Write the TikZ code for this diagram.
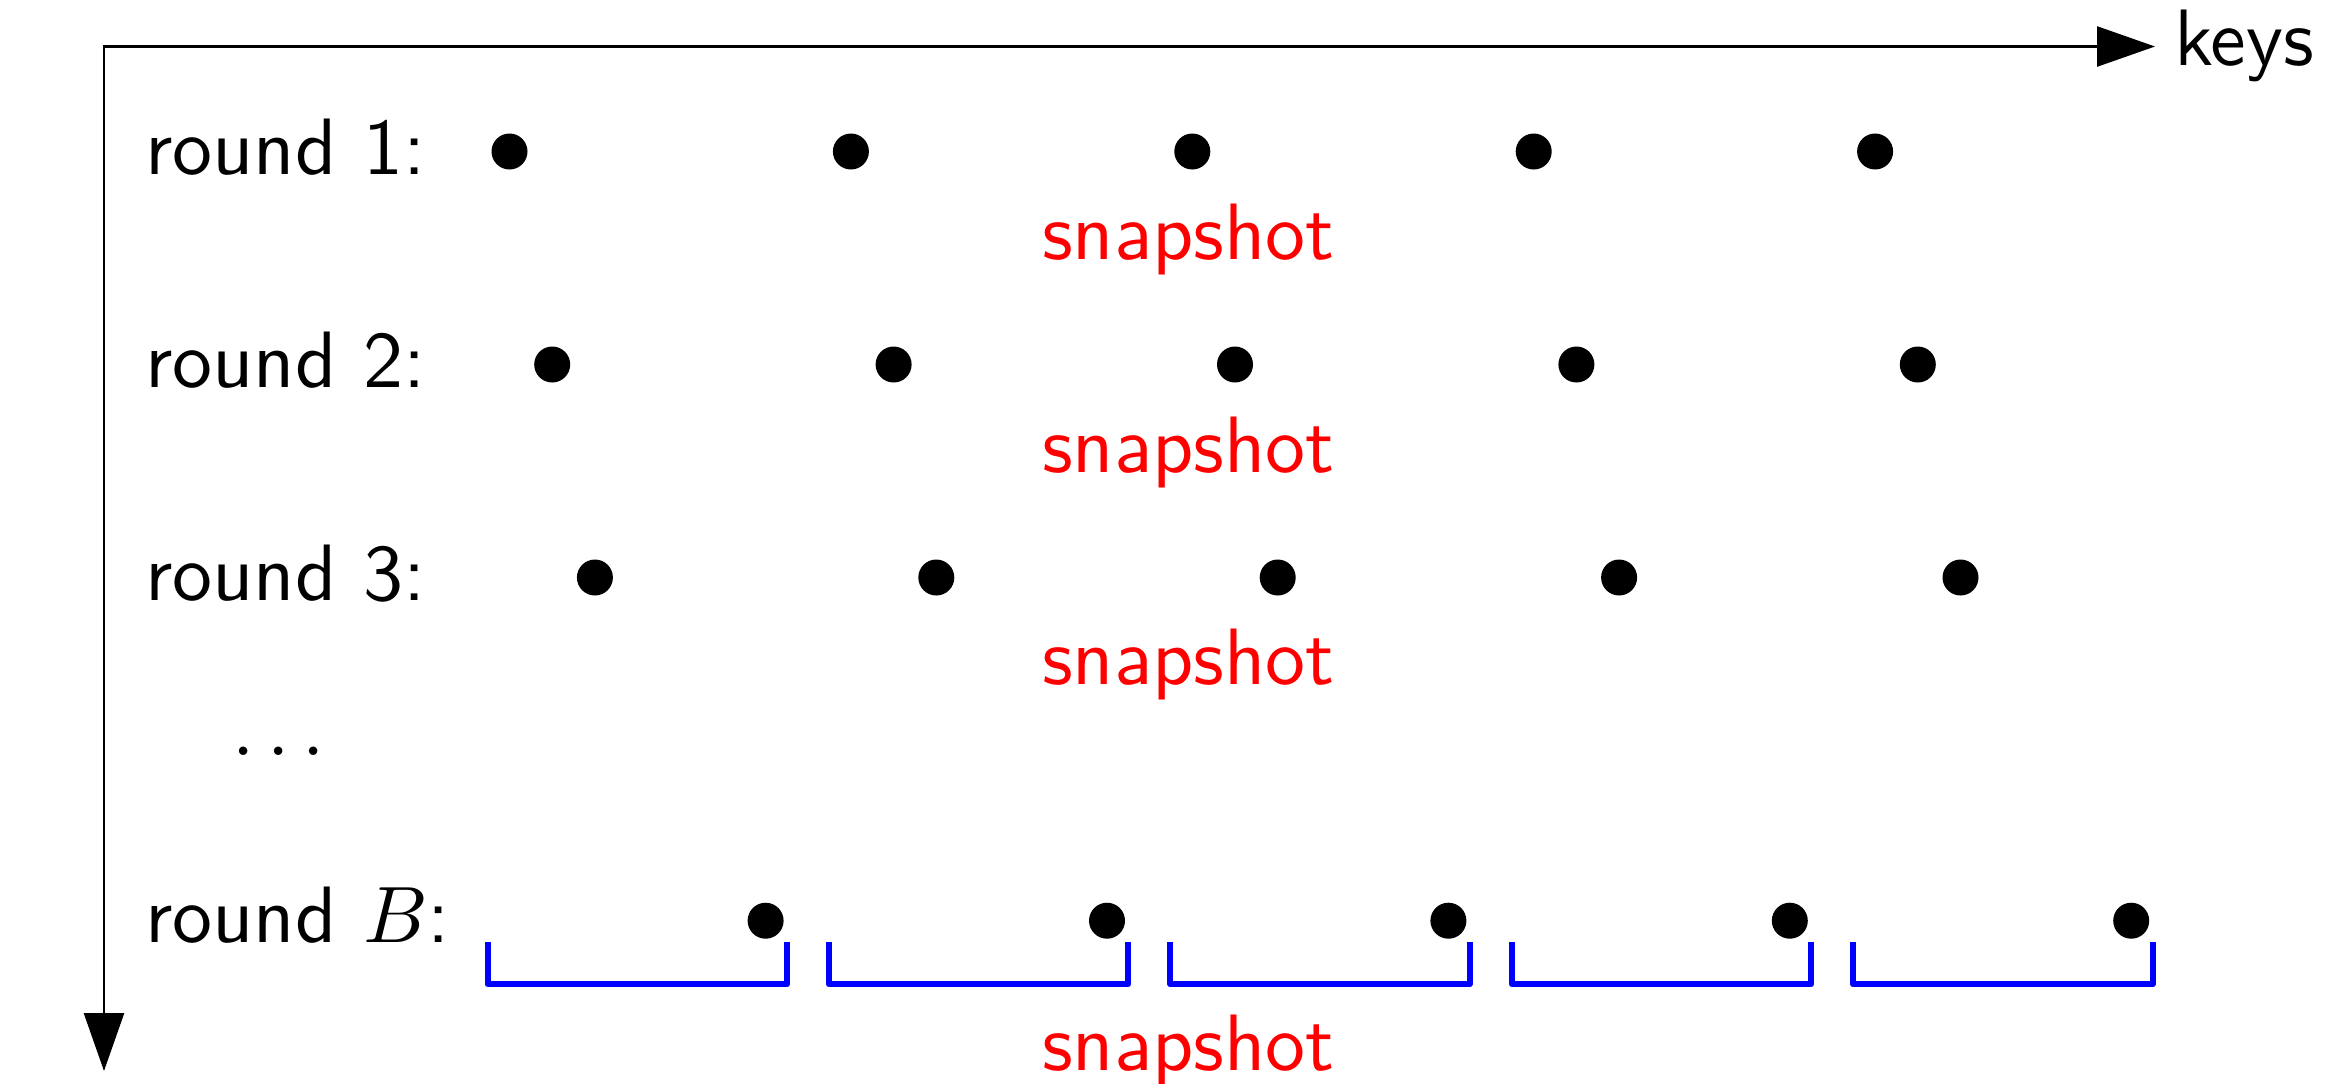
\documentclass[tikz,border=0pt]{standalone}
\usepackage{graphicx}
\usetikzlibrary{arrows.meta}
\newcommand{\sclT}[1]{\scalebox{4}{#1}}
\begin{document}
\begin{tikzpicture}[x=0.5pt,y=-0.5pt,
  lbl/.style={font=\sffamily\fontsize{10}{12}\selectfont, inner sep=0pt, outer sep=0pt},
  rowlbl/.style={lbl, anchor=base west},
  snap/.style={lbl, anchor=base, text=red},
  dot/.style={circle, fill=black, minimum size=18pt, inner sep=0pt},
  axis/.style={line width=1.3pt, {Triangle[length=29pt,width=20pt]}-{Triangle[length=29pt,width=20pt]}},
  bracket/.style={draw=blue, line width=3pt, line join=round}]
\useasboundingbox (0,0) rectangle (2351,1083);
% axes
\coordinate (O) at (104,46.5);
\coordinate (X) at (2155,46.5);
\coordinate (Y) at (104,1071);
\draw[axis] (Y) -- (O) -- (X);
\node[rowlbl] (keys) at (2174,65) {\sclT{keys}};
% row labels
\node[rowlbl] (r1) at (145,174.5) {\sclT{round 1:}};
\node[rowlbl] (r2) at (145,387.5) {\sclT{round 2:}};
\node[rowlbl] (r3) at (145,600) {\sclT{round 3:}};
\node[rowlbl] (rdots) at (232,755.5) {\sclT{$\dots$}};
\node[rowlbl] (rB) at (145,942) {\sclT{round $B$:}};
% dots
\foreach \i in {0,...,4} {
  \node[dot] (d1-\i) at ({509.5+\i*341.4},151.5) {};
  \node[dot] (d2-\i) at ({552.2+\i*341.4},364.5) {};
  \node[dot] (d3-\i) at ({594.9+\i*341.4},577.5) {};
  \node[dot] (dB-\i) at ({765.6+\i*341.4},920.7) {};
  \draw[bracket] ({487.5+\i*341.4},942) -- ({487.5+\i*341.4},984.3)
     -- ({786.9+\i*341.4},984.3) -- ({786.9+\i*341.4},942);
}
% snapshot labels
\node[snap] (s1) at (1188.5,259) {\sclT{snapshot}};
\node[snap] (s2) at (1188.5,472) {\sclT{snapshot}};
\node[snap] (s3) at (1188.5,684.5) {\sclT{snapshot}};
\node[snap] (sB) at (1188.5,1070) {\sclT{snapshot}};
\end{tikzpicture}
\end{document}
